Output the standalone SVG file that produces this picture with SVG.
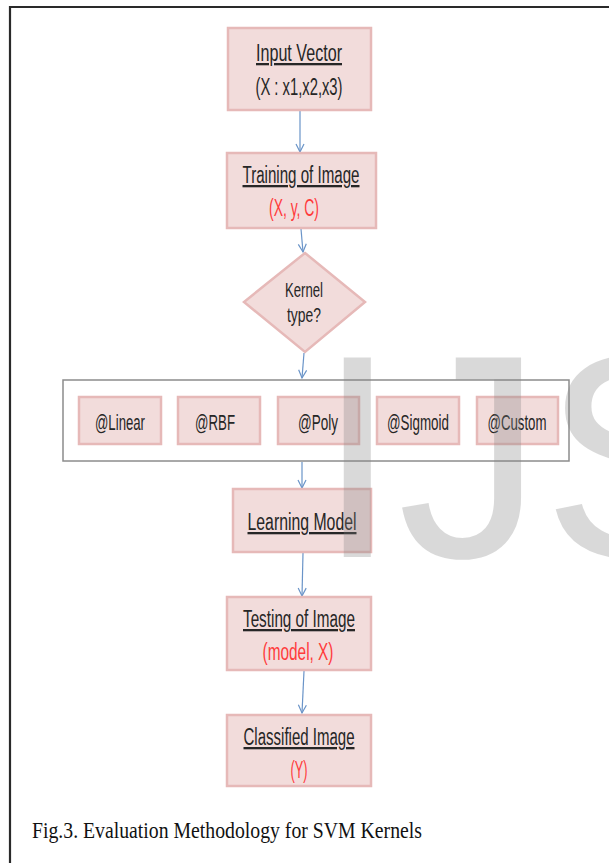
<svg xmlns="http://www.w3.org/2000/svg" width="609" height="863" viewBox="0 0 609 863">
<defs>
<style>
.box{fill:#f2dcdb;stroke:#e6b9b8;stroke-width:2.5}
.t{font-family:"Liberation Sans",Arial,sans-serif;font-size:23px;fill:#262626;text-anchor:middle}
.u{text-decoration:underline}
.r{fill:#ff3b3b}
.k{font-family:"Liberation Sans",Arial,sans-serif;font-size:20px;fill:#262626;text-anchor:middle}
.kb{font-family:"Liberation Sans",Arial,sans-serif;font-size:22px;fill:#262626;text-anchor:middle}
.c{stroke:#6a94c8;stroke-width:1.2;fill:none;marker-end:url(#ah)}
</style>
<marker id="ah" markerUnits="userSpaceOnUse" markerWidth="12" markerHeight="12" viewBox="-10 -6 12 12" refX="0" refY="0" orient="auto">
<path d="M-8,-4 L0,0 L-8,4" fill="none" stroke="#6a94c8" stroke-width="1.2"/>
</marker>
</defs>
<rect width="609" height="863" fill="#ffffff"/>
<path d="M10,863 L10,7 L609,7" fill="none" stroke="#2a2a2a" stroke-width="2.2"/>

<g id="connectors">
<line class="c" x1="300" y1="111" x2="300" y2="152"/>
<line class="c" x1="301" y1="229" x2="303" y2="252"/>
<line class="c" x1="304" y1="353" x2="302" y2="378"/>
<line class="c" x1="302" y1="462" x2="302" y2="488"/>
<line class="c" x1="303" y1="553" x2="302" y2="596"/>
<line class="c" x1="304" y1="671" x2="302" y2="713"/>
</g>

<g id="input-vector">
<rect class="box" x="228" y="28" width="143" height="82"/>
<text class="t u" x="299" y="61" textLength="86" lengthAdjust="spacingAndGlyphs">Input Vector</text>
<text class="t" x="299" y="95" textLength="87" lengthAdjust="spacingAndGlyphs">(X : x1,x2,x3)</text>
</g>

<g id="training">
<rect class="box" x="227" y="153" width="149" height="75"/>
<text class="t u" x="301" y="183" textLength="117" lengthAdjust="spacingAndGlyphs">Training of Image</text>
<text class="t r" x="294" y="216" textLength="50" lengthAdjust="spacingAndGlyphs">(X, y, C)</text>
</g>

<g id="kernel-type">
<polygon class="box" points="305,253 365,302 305,352 244,302"/>
<text class="k" x="304" y="297" textLength="38" lengthAdjust="spacingAndGlyphs">Kernel</text>
<text class="k" x="304" y="322" textLength="34" lengthAdjust="spacingAndGlyphs">type?</text>
</g>

<g id="kernels">
<rect x="63" y="380" width="506" height="81" fill="none" stroke="#8c8c8c" stroke-width="1.5"/>
<g id="linear">
<rect class="box" x="79" y="397" width="82" height="47"/>
<text class="kb" x="120" y="430" textLength="50" lengthAdjust="spacingAndGlyphs">@Linear</text>
</g>
<g id="rbf">
<rect class="box" x="178" y="397" width="82" height="47"/>
<text class="kb" x="215" y="430" textLength="40" lengthAdjust="spacingAndGlyphs">@RBF</text>
</g>
<g id="poly">
<rect class="box" x="278" y="397" width="81" height="47"/>
<text class="kb" x="318" y="430" textLength="40" lengthAdjust="spacingAndGlyphs">@Poly</text>
</g>
<g id="sigmoid">
<rect class="box" x="377" y="397" width="82" height="47"/>
<text class="kb" x="418" y="430" textLength="62" lengthAdjust="spacingAndGlyphs">@Sigmoid</text>
</g>
<g id="custom">
<rect class="box" x="477" y="397" width="81" height="47"/>
<text class="kb" x="517" y="430" textLength="59" lengthAdjust="spacingAndGlyphs">@Custom</text>
</g>
</g>

<g id="learning-model">
<rect class="box" x="233" y="489" width="138" height="63"/>
<text class="t u" x="302" y="530" textLength="109" lengthAdjust="spacingAndGlyphs">Learning Model</text>
</g>

<g id="testing">
<rect class="box" x="227" y="597" width="144" height="73"/>
<text class="t u" x="299" y="627" textLength="112" lengthAdjust="spacingAndGlyphs">Testing of Image</text>
<text class="t r" x="298" y="660" textLength="71" lengthAdjust="spacingAndGlyphs">(model, X)</text>
</g>

<g id="classified">
<rect class="box" x="227" y="715" width="144" height="71"/>
<text class="t u" x="299" y="745" textLength="111" lengthAdjust="spacingAndGlyphs">Classified Image</text>
<text class="t r" x="299" y="778" textLength="17" lengthAdjust="spacingAndGlyphs">(Y)</text>
</g>

<text x="32" y="838" font-family="'Liberation Serif','Times New Roman',serif" font-size="23" fill="#111" textLength="390" lengthAdjust="spacingAndGlyphs">Fig.3. Evaluation Methodology for SVM Kernels</text>

<text x="317" y="557" font-family="'Liberation Sans',Arial,sans-serif" font-size="290" fill="#808080" fill-opacity="0.3">IJS</text>
</svg>
